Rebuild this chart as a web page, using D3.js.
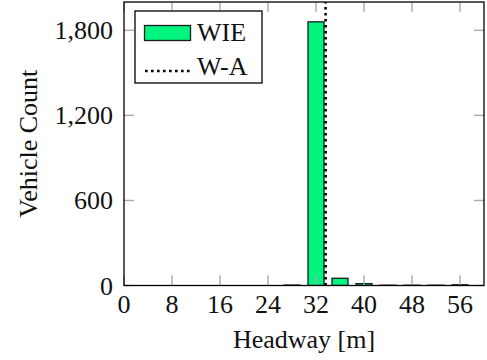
<!DOCTYPE html>
<html>
<head>
<meta charset="utf-8">
<script src="https://cdn.jsdelivr.net/npm/d3@7"></script>
<style>
  body { margin: 0; background: #fff; }
  text { font-family: "Liberation Serif", "Times New Roman", serif; fill: #111; }
</style>
</head>
<body>
<svg id="chart" width="487" height="360"></svg>
<script>
// Headway histogram: bin centres (m) and vehicle counts per bin
const headwayBins = [0, 4, 8, 12, 16, 20, 24, 28, 32, 36, 40, 44, 48, 52, 56];
const vehicleCounts = [0, 0, 0, 0, 0, 0, 0, 3, 1860, 51, 13, 2, 2, 2, 5];
// Reference headway marked with a dotted vertical line
const referenceHeadway = [33.6];
const xTickValues = [0, 8, 16, 24, 32, 40, 48, 56];
const yTickValues = [0, 600, 1200, 1800];
const legendLabels = ["WIE", "W-A"];

const W = 487, H = 360;
const margin = { left: 124, right: 3, top: 2, bottom: 74.5 };
const x0 = margin.left, x1 = W - margin.right;
const y0 = H - margin.bottom, y1 = margin.top;

const x = d3.scaleLinear().domain([0, 60]).range([x0, x1]);
const y = d3.scaleLinear().domain([0, 2000]).range([y0, y1]);

const barColor = "#00f57f";
const barWidth = x(2.667) - x(0);
const tickLen = 10;
const fontSize = 26;

const svg = d3.select("#chart");

svg.append("clipPath").attr("id", "plot-clip")
  .append("rect").attr("x", x0).attr("y", y1).attr("width", x1 - x0).attr("height", y0 - y1);

const plot = svg.append("g").attr("clip-path", "url(#plot-clip)");

// Histogram bars
plot.selectAll("rect.bar")
  .data(headwayBins.map((b, i) => ({ bin: b, count: vehicleCounts[i] })))
  .join("rect")
  .attr("class", "bar")
  .attr("x", d => x(d.bin) - barWidth / 2)
  .attr("y", d => y(d.count))
  .attr("width", barWidth)
  .attr("height", d => y(0) - y(d.count))
  .attr("fill", barColor)
  .attr("stroke", "#1a1a1a")
  .attr("stroke-width", 1.3);

// Dotted reference line
plot.selectAll("line.ref")
  .data(referenceHeadway)
  .join("line")
  .attr("class", "ref")
  .attr("x1", d => x(d)).attr("x2", d => x(d))
  .attr("y1", y0).attr("y2", y1)
  .attr("stroke", "#000")
  .attr("stroke-width", 2.6)
  .attr("stroke-dasharray", "2.6,3.4");

// Inward tick marks on all four sides
const ticks = svg.append("g").attr("stroke", "#aaa").attr("stroke-width", 1.4);
xTickValues.forEach(v => {
  ticks.append("line").attr("x1", x(v)).attr("x2", x(v)).attr("y1", y0).attr("y2", y0 - tickLen);
  ticks.append("line").attr("x1", x(v)).attr("x2", x(v)).attr("y1", y1).attr("y2", y1 + tickLen);
});
yTickValues.forEach(v => {
  ticks.append("line").attr("x1", x0).attr("x2", x0 + tickLen).attr("y1", y(v)).attr("y2", y(v));
  ticks.append("line").attr("x1", x1).attr("x2", x1 - tickLen).attr("y1", y(v)).attr("y2", y(v));
});

// Frame
svg.append("rect")
  .attr("x", x0).attr("y", y1)
  .attr("width", x1 - x0).attr("height", y0 - y1)
  .attr("fill", "none").attr("stroke", "#000").attr("stroke-width", 1.3);

// Tick labels
svg.append("g").selectAll("text")
  .data(xTickValues)
  .join("text")
  .attr("x", d => x(d))
  .attr("y", 313)
  .attr("text-anchor", "middle")
  .attr("font-size", fontSize)
  .text(d => d);

const fmt = d3.format(",");
svg.append("g").selectAll("text")
  .data(yTickValues)
  .join("text")
  .attr("x", 113)
  .attr("y", d => y(d) + 9)
  .attr("text-anchor", "end")
  .attr("font-size", fontSize)
  .text(d => fmt(d));

// Axis titles
svg.append("text")
  .attr("x", (x0 + x1) / 2).attr("y", 348)
  .attr("text-anchor", "middle")
  .attr("font-size", fontSize)
  .text("Headway [m]");

svg.append("text")
  .attr("transform", `translate(37,${(y0 + y1) / 2}) rotate(-90)`)
  .attr("text-anchor", "middle")
  .attr("font-size", fontSize)
  .text("Vehicle Count");

// Legend
const legend = svg.append("g");
legend.append("rect")
  .attr("x", 135).attr("y", 11).attr("width", 127).attr("height", 72)
  .attr("fill", "#fff").attr("stroke", "#000").attr("stroke-width", 1.3);
legend.append("rect")
  .attr("x", 144.5).attr("y", 25.5).attr("width", 46).attr("height", 15)
  .attr("fill", barColor).attr("stroke", "#1a1a1a").attr("stroke-width", 1.3);
legend.append("line")
  .attr("x1", 145).attr("x2", 191).attr("y1", 71).attr("y2", 71)
  .attr("stroke", "#000").attr("stroke-width", 2.6)
  .attr("stroke-dasharray", "2.6,3.4");
legend.selectAll("text.lbl")
  .data(legendLabels)
  .join("text")
  .attr("class", "lbl")
  .attr("x", 197)
  .attr("y", (d, i) => 41 + i * 34)
  .attr("font-size", fontSize)
  .text(d => d);
</script>
</body>
</html>
